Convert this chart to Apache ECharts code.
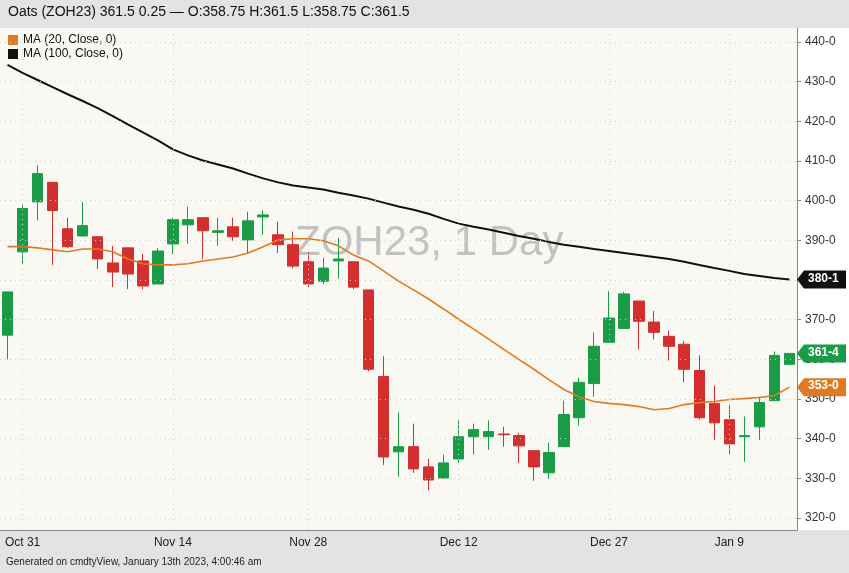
<!DOCTYPE html>
<html><head><meta charset="utf-8">
<script src="https://cdn.jsdelivr.net/npm/echarts@6/dist/echarts.min.js"></script>
<style>html,body{margin:0;padding:0;background:#e3e3e3}#c{width:849px;height:573px}</style>
</head><body><div id="c"></div>
<script>
const dates=['Oct 28','Oct 31','Nov 1','Nov 2','Nov 3','Nov 4','Nov 7','Nov 8','Nov 9','Nov 10','Nov 11','Nov 14','Nov 15','Nov 16','Nov 17','Nov 18','Nov 21','Nov 22','Nov 23','Nov 25','Nov 28','Nov 29','Nov 30','Dec 1','Dec 2','Dec 5','Dec 6','Dec 7','Dec 8','Dec 9','Dec 12','Dec 13','Dec 14','Dec 15','Dec 16','Dec 19','Dec 20','Dec 21','Dec 22','Dec 23','Dec 27','Dec 28','Dec 29','Dec 30','Jan 3','Jan 4','Jan 5','Jan 6','Jan 9','Jan 10','Jan 11','Jan 12','Jan 13'];
const labeledDates=['Oct 31','Nov 14','Nov 28','Dec 12','Dec 27','Jan 9'];
// [open, close, low, high]
const ohlc=[
[366.1,377.0,360,377.0],[387.1,398.0,383.8,399.2],[399.7,406.8,395,408.9],[404.6,397.5,383.8,404.6],
[392.9,388.4,388,395.7],[391.1,393.7,391,399.7],[390.9,385.3,382.8,391],[384.3,382.0,378.2,388.6],
[388.1,381.5,377.7,388.1],[384.8,378.5,377.7,386.6],[379,387.3,379,388],[389.1,395.2,386.6,395.7],
[393.9,395.2,389.1,398.5],[395.7,392.4,385.3,395.7],[392,392.4,388.6,395.7],[393.4,390.9,389.9,395.7],
[390.1,394.9,386.6,397.2],[395.9,396.4,391.4,397.5],[391.4,388.9,386.8,394.7],[388.9,383.5,383,392.2],
[384.6,379,378.2,387],[379.7,383,379,385.6],[384.8,385.3,380.3,390.6],[384.6,378.2,377.7,384.6],
[377.5,357.5,357,377.5],[355.7,335.4,333.4,360.8],[336.7,338,330.4,346.6],[338,332.4,331.4,343.8],
[332.9,329.6,327,334.9],[330.1,333.9,330,336],[334.9,340.5,333.9,344.6],[340.5,342.3,336,343.8],
[340.5,341.8,337.2,344.6],[341.2,341,338,343],[340.8,338.2,333.9,341.5],[337,332.9,329.4,337],
[331.4,336.5,329.9,339],[338,346.1,338,349.6],[345.3,354.2,343.3,355.4],[353.9,363.3,350.6,366.8],
[364.3,370.4,364.3,377.2],[367.8,376.5,367.8,377],[374.7,369.6,362.5,374.7],[369.4,366.8,365,372.2],
[365.8,363.3,359.7,367.3],[363.8,357.5,354.2,364.6],[357.2,345.3,344.8,361],[348.9,344,339.7,353.4],
[344.8,338.7,336,348.4],[340.5,340.8,334.2,345.6],[343,349.1,339.7,350.6],[349.6,361,349.6,362],
[358.75,361.5,358.75,361.5]];
const ma20=[388.4,388.4,388.1,387.6,387.1,387.8,387.8,387.1,385.3,384.1,383.8,383.8,384.1,384.8,385.3,385.8,386.8,388.4,390.1,390.4,390.4,389.9,388.6,386.3,384.8,382.3,379.7,377.5,375.2,372.7,370.1,367.6,365.1,362.5,360.0,357.5,354.9,352.4,350.6,349.4,348.9,348.6,348.1,347.3,347.6,348.6,349.1,349.4,349.9,350.1,350.4,350.9,353.0];
const ma100=[434.2,432.2,430.4,428.6,426.8,425.1,423.3,421.3,419.2,417.2,415.2,412.9,411.4,410.1,409.1,408.1,406.8,405.6,404.6,403.8,403.3,402.8,402.0,401.3,400.5,399.5,398.5,397.7,396.7,395.4,394.2,393.4,392.7,391.9,391.1,390.4,389.6,388.9,388.4,387.8,387.3,386.8,386.3,385.8,385.3,384.6,383.8,383.0,382.3,381.5,381.0,380.5,380.1];
const yTicks=[320,330,340,350,360,370,380,390,400,410,420,430,440];
const priceTags=[{text:'380-1',value:380.1,color:'#111'},{text:'361-4',value:361.5,color:'#1a9c46'},{text:'353-0',value:353.0,color:'#e07a22'}];

const chart=echarts.init(document.getElementById('c'));
const F='Helvetica, Arial, "Liberation Sans", sans-serif';
chart.setOption({
  animation:false,
  backgroundColor:'#e3e3e3',
  graphic:[
    {type:'rect',shape:{x:0,y:28,width:797,height:502},style:{fill:'#faf8f3'},z:-10},
    {type:'rect',shape:{x:797,y:28,width:52,height:502},style:{fill:'#ffffff'},z:-10},
    {type:'text',left:8,top:5,style:{text:'Oats (ZOH23) 361.5 0.25 — O:358.75 H:361.5 L:358.75 C:361.5',font:'14px '+F,fill:'#111'}},
    {type:'text',left:6,top:557,style:{text:'Generated on cmdtyView, January 13th 2023, 4:00:46 am',font:'10px '+F,fill:'#222'}},
    {type:'text',left:295,top:222,style:{text:'ZOH23, 1 Day',font:'42px '+F,fill:'rgba(150,150,150,0.55)'},z:-5},
    {type:'rect',shape:{x:8,y:35,width:10,height:10},style:{fill:'#e07a22'}},
    {type:'text',left:23,top:34,style:{text:'MA (20, Close, 0)',font:'12px '+F,fill:'#111'}},
    {type:'rect',shape:{x:8,y:49,width:10,height:10},style:{fill:'#111'}},
    {type:'text',left:23,top:48,style:{text:'MA (100, Close, 0)',font:'12px '+F,fill:'#111'}}
  ],
  grid:{left:-2,right:52,top:28,bottom:43},
  xAxis:{type:'category',data:dates,boundaryGap:true,
    axisLine:{show:true,lineStyle:{color:'#888'}},axisTick:{show:false},
    axisLabel:{interval:0,formatter:v=>labeledDates.includes(v)?v:'',color:'#222',fontSize:12,fontFamily:F,margin:7},
    splitLine:{show:false}},
  yAxis:{type:'value',position:'right',min:317,max:443.5,scale:true,
    axisLine:{show:true,lineStyle:{color:'#888'}},
    axisTick:{show:true,customValues:yTicks,length:4,lineStyle:{color:'#888'}},
    axisLabel:{customValues:yTicks,formatter:v=>v.toFixed(1).replace('.','-'),color:'#333',fontSize:12,fontFamily:F,margin:8},
    splitLine:{show:false}},
  series:[
    {type:'line',data:[],z:0,silent:true,
     markLine:{silent:true,symbol:'none',label:{show:false},
       lineStyle:{color:'#cfcfcf',type:[1,4],width:1},
       data:yTicks.map(v=>({yAxis:v})).concat(labeledDates.map(d=>({xAxis:d})))}},
    {type:'candlestick',data:ohlc,barWidth:11,z:2,
     itemStyle:{color:'#1a9c46',color0:'#d32f2f',borderColor:'#1a9c46',borderColor0:'#d32f2f'}},
    {type:'line',data:ma20,showSymbol:false,lineStyle:{color:'#e07a22',width:1.6},z:3},
    {type:'line',data:ma100,showSymbol:false,lineStyle:{color:'#111',width:2},z:3}
  ]
});
const extra=chart.getOption().graphic[0].elements.slice();
priceTags.forEach(t=>{
  const y=chart.convertToPixel({yAxisIndex:0},t.value);
  extra.push({type:'polygon',z:100,shape:{points:[[797,y],[804,y-9],[846,y-9],[846,y+9],[804,y+9]]},style:{fill:t.color}});
  extra.push({type:'text',z:101,x:808,y:y-7,style:{text:t.text,font:'bold 12px '+F,fill:'#fff'}});
});
chart.setOption({graphic:extra},{replaceMerge:['graphic']});
</script></body></html>
